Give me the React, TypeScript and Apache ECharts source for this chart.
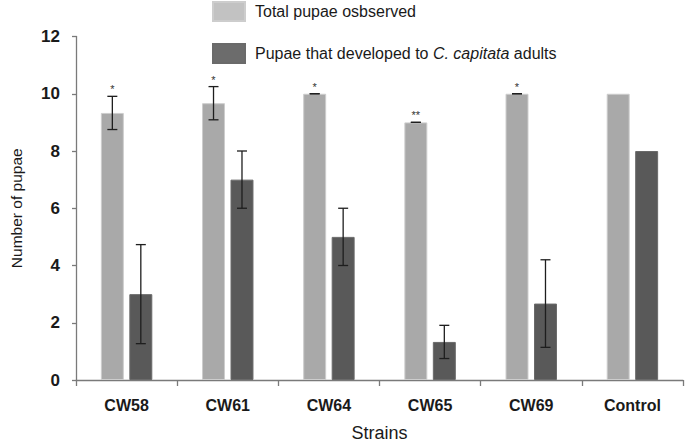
import React, { useEffect, useRef } from "react";
import * as echarts from "echarts";

const categories = ["CW58", "CW61", "CW64", "CW65", "CW69", "Control"];
const totalPupae = [9.33, 9.67, 10, 9, 10, 10];
const totalErr: (number | null)[] = [0.58, 0.58, 0, 0, 0, null];
const adultPupae = [3, 7, 5, 1.33, 2.67, 8];
const adultErr: (number | null)[] = [1.73, 1, 1, 0.58, 1.53, null];
const significance = ["*", "*", "*", "**", "*", ""];
const yTicks = { min: 0, max: 12, interval: 2 };

const totalName = "Total pupae osbserved";
const adultName = "Pupae that developed to C. capitata adults";

const BAR_FRAC = 0.227;
const GAP_FRAC = 0.24;
const OFF_FRAC = (BAR_FRAC * (1 + GAP_FRAC)) / 2;

const REG = "'Liberation Sans', Arial, sans-serif";

function errSeries(values: number[], errs: (number | null)[], side: number, withStars: boolean) {
  const data = values.map((v, i) => [i, v, errs[i] == null ? -1 : errs[i]]);
  return {
    type: "custom",
    z: 5,
    clip: false,
    silent: true,
    encode: { x: 0, y: 1 },
    data,
    renderItem: (params: any, api: any) => {
      const x = api.value(0);
      const v = api.value(1);
      const e = api.value(2);
      const bw = api.size([1, 0])[0];
      const off = side * bw * OFF_FRAC;
      const children: any[] = [];
      const lineStyle = { stroke: "#1e1e1e", lineWidth: 1.3 };
      let topY = api.coord([x, v])[1];
      if (e >= 0) {
        const t = api.coord([x, v + e]);
        const b = api.coord([x, v - e]);
        const cx = t[0] + off;
        topY = t[1];
        children.push({ type: "line", shape: { x1: cx, y1: t[1], x2: cx, y2: b[1] }, style: lineStyle });
        children.push({ type: "line", shape: { x1: cx - 5, y1: t[1], x2: cx + 5, y2: t[1] }, style: lineStyle });
        children.push({ type: "line", shape: { x1: cx - 5, y1: b[1], x2: cx + 5, y2: b[1] }, style: lineStyle });
      }
      if (withStars) {
        const s = significance[params.dataIndex];
        if (s) {
          const p = api.coord([x, v]);
          children.push({
            type: "text",
            x: p[0] + off,
            y: topY - 7,
            style: {
              text: s,
              fontSize: 11,
              fontFamily: REG,
              fill: "#333",
              align: "center",
              verticalAlign: "middle",
            },
          });
        }
      }
      return { type: "group", children };
    },
  };
}

export default function App() {
  const ref = useRef<HTMLDivElement>(null);
  useEffect(() => {
    if (!ref.current) return;
    const chart = echarts.init(ref.current, undefined, { renderer: "svg" });
    chart.setOption({
      animation: false,
      backgroundColor: "#ffffff",
      grid: { left: 62, right: 2, top: 36.5, bottom: 64, containLabel: false },
      legend: {
        orient: "vertical",
        left: 212,
        top: 1,
        padding: 0,
        itemWidth: 32,
        itemHeight: 19,
        itemGap: 21,
        icon: "rect",
        selectedMode: false,
        data: [
          { name: totalName, itemStyle: { color: "#c2c2c2" } },
          { name: adultName, itemStyle: { color: "#6c6c6c" } },
        ],
        formatter: (name: string) =>
          name === adultName
            ? "{a|Pupae that developed to }{i|C. capitata}{a| adults}"
            : "{a|" + name + "}",
        textStyle: {
          fontSize: 16,
          fontFamily: REG,
          color: "#1a1a1a",
          padding: [0, 0, 0, 5],
          rich: {
            a: { fontSize: 16, fontFamily: REG, color: "#1a1a1a" },
            i: { fontSize: 16, fontFamily: REG, fontStyle: "italic", color: "#1a1a1a" },
          },
        },
      },
      xAxis: {
        type: "category",
        data: categories,
        name: "Strains",
        nameLocation: "middle",
        nameGap: 44,
        nameTextStyle: { fontSize: 18, fontFamily: REG, color: "#1a1a1a" },
        axisLine: { lineStyle: { color: "#7a7a7a", width: 1.3 } },
        axisTick: { show: true, length: 6, interval: 0, alignWithLabel: false, lineStyle: { color: "#7a7a7a", width: 1.3 } },
        axisLabel: { fontSize: 16, fontWeight: "bold", fontFamily: REG, color: "#1a1a1a", margin: 17, interval: 0 },
      },
      yAxis: {
        type: "value",
        min: yTicks.min,
        max: yTicks.max,
        interval: yTicks.interval,
        name: "Number of pupae",
        nameLocation: "middle",
        nameRotate: 90,
        nameGap: 52,
        nameTextStyle: { fontSize: 15.5, fontFamily: REG, color: "#1a1a1a" },
        axisLine: { show: true, lineStyle: { color: "#7a7a7a", width: 1.3 } },
        axisTick: { show: true, length: 4, lineStyle: { color: "#7a7a7a", width: 1.3 } },
        splitLine: { show: false },
        axisLabel: { fontSize: 17, fontWeight: "bold", fontFamily: REG, color: "#1a1a1a", margin: 16 },
      },
      series: [
        {
          name: totalName,
          type: "bar",
          data: totalPupae,
          barWidth: (BAR_FRAC * 100).toFixed(1) + "%",
          barGap: GAP_FRAC * 100 + "%",
          itemStyle: { color: "#a9a9a9", borderColor: "#cdcdcd", borderWidth: 1 },
        },
        {
          name: adultName,
          type: "bar",
          data: adultPupae,
          barWidth: (BAR_FRAC * 100).toFixed(1) + "%",
          barGap: GAP_FRAC * 100 + "%",
          itemStyle: { color: "#595959", borderColor: "#6a6a6a", borderWidth: 1 },
        },
        errSeries(totalPupae, totalErr, -1, true),
        errSeries(adultPupae, adultErr, 1, false),
      ],
    });
    return () => chart.dispose();
  }, []);
  return <div ref={ref} style={{ width: 685, height: 447, position: "absolute", left: 0, top: 0 }} />;
}
